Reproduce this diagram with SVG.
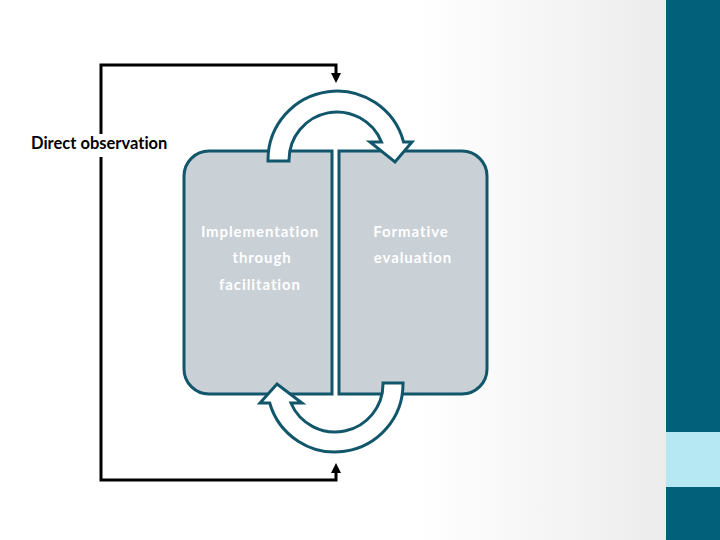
<svg xmlns="http://www.w3.org/2000/svg" width="720" height="540" viewBox="0 0 720 540">
<defs>
<linearGradient id="bg" x1="0" y1="0" x2="1" y2="0">
<stop offset="0" stop-color="#ffffff"/>
<stop offset="0.58" stop-color="#ffffff"/>
<stop offset="1" stop-color="#e8e8e8"/>
</linearGradient>
<marker id="ah" viewBox="0 0 10 10" refX="2" refY="5" markerWidth="10" markerHeight="10" markerUnits="userSpaceOnUse" orient="auto">
<path d="M0,0 L10,5 L0,10 Z" fill="#000"/>
</marker>
<style>
.box{fill:#c9d0d6;stroke:#11566b;stroke-width:3}
.cyc{fill:#ffffff;stroke:#11566b;stroke-width:3;stroke-linejoin:miter}
.lbl{font-family:Lato,"Open Sans","Liberation Sans",sans-serif;font-size:15px;font-weight:bold;fill:#ffffff;letter-spacing:0.9px;text-anchor:middle;font-variant-ligatures:none}
.obs{font-family:Lato,"Open Sans","Liberation Sans",sans-serif;font-size:16.5px;font-weight:bold;fill:#000;font-variant-ligatures:none}
.conn{fill:none;stroke:#000;stroke-width:3}
</style>
</defs>
<rect x="0" y="0" width="720" height="540" fill="url(#bg)"/>
<g id="sidebar">
<rect x="666" y="0" width="54" height="540" fill="#03607a"/>
<rect x="666" y="432" width="54" height="55" fill="#b5e8f2"/>
</g>
<g id="connectors">
<path class="conn" d="M336,74 L336,65 L101,65 L101,480 L336,480 L336,471" marker-end="url(#ah)"/>
<path d="M331,73 L341,73 L336,83 Z" fill="#000"/>
</g>
<g id="node-implementation">
<path class="box" d="M332,151 L209,151 A25 25 0 0 0 184,176 L184,369 A25 25 0 0 0 209,394 L332,394 Z"/>
<text class="lbl" x="260" y="237">Implementation</text>
<text class="lbl" x="262" y="263">through</text>
<text class="lbl" x="260" y="290">facilitation</text>
</g>
<g id="node-formative">
<path class="box" d="M339,151 L462,151 A25 25 0 0 1 487,176 L487,369 A25 25 0 0 1 462,394 L339,394 Z"/>
<text class="lbl" x="411" y="237">Formative</text>
<text class="lbl" x="413" y="263">evaluation</text>
</g>
<g id="cycle-top">
<path class="cyc" d="M268,161 L268,160 A69 69 0 0 1 403.6,142 L412,142 L395,162 L370,142 L381.5,142 A48 48 0 0 0 289,160 L289,161 Z"/>
</g>
<g id="cycle-bottom">
<path class="cyc" d="M403,383 L403,384 A68 68 0 0 1 269.7,403 L260,403 L277,384 L302,403 L290.9,403 A48 48 0 0 0 383,384 L383,383 Z"/>
</g>
<g id="node-direct-observation">
<rect x="28" y="134" width="144" height="23" fill="#ffffff"/>
<text class="obs" x="31" y="149">Direct observation</text>
</g>
</svg>
